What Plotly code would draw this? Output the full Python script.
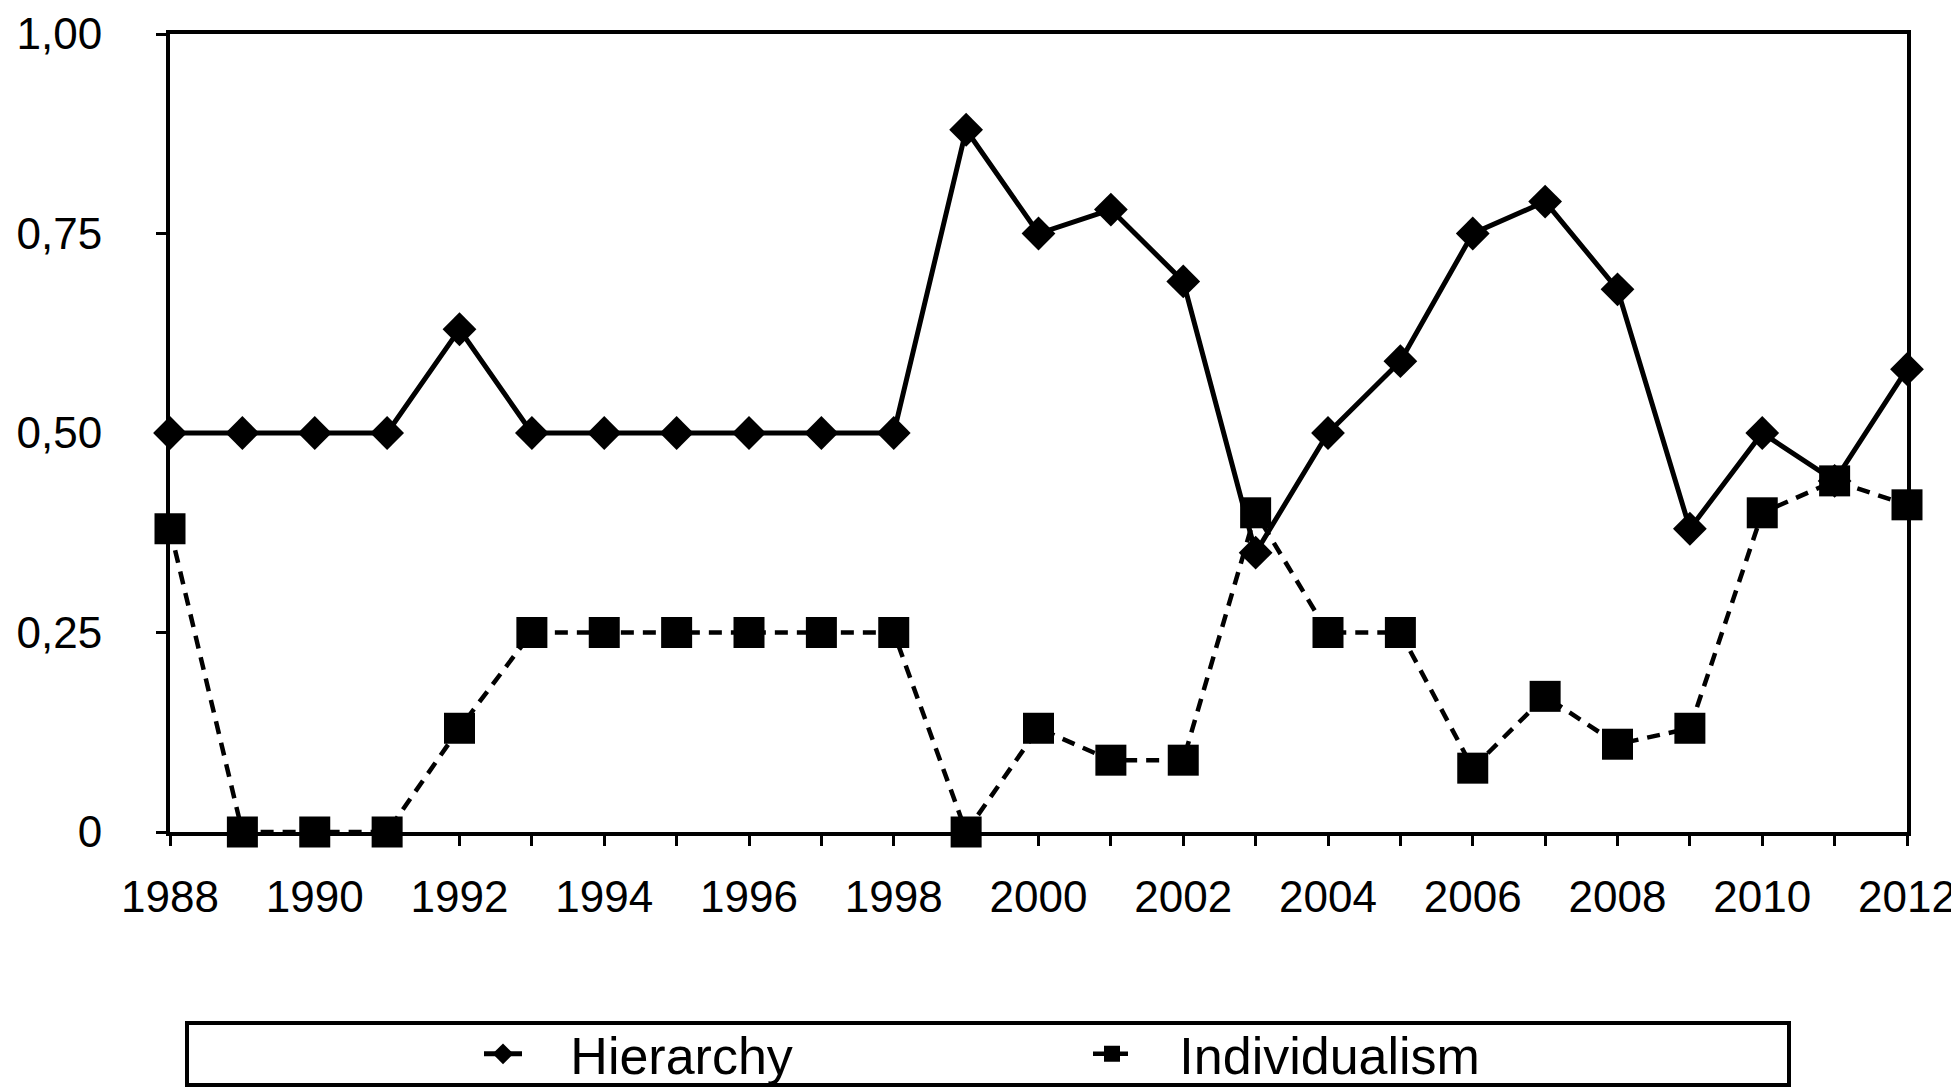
import plotly.graph_objects as go

years = list(range(1988, 2013))
hierarchy = [0.50, 0.50, 0.50, 0.50, 0.63, 0.50, 0.50, 0.50, 0.50, 0.50, 0.50,
             0.88, 0.75, 0.78, 0.69, 0.35, 0.50, 0.59, 0.75, 0.79, 0.68, 0.38,
             0.50, 0.44, 0.58]
individualism = [0.38, 0.00, 0.00, 0.00, 0.13, 0.25, 0.25, 0.25, 0.25, 0.25, 0.25,
                 0.00, 0.13, 0.09, 0.09, 0.40, 0.25, 0.25, 0.08, 0.17, 0.11, 0.13,
                 0.40, 0.44, 0.41]

x_tickvals = list(range(1988, 2013, 2))
x_ticktext = [str(v) for v in x_tickvals]
y_tickvals = [0, 0.25, 0.5, 0.75, 1.0]
y_ticktext = ["0", "0,25", "0,50", "0,75", "1,00"]

FONT = "Liberation Sans, Arial, Helvetica, sans-serif"
GAP = "\u00a0\u00a0\u00a0"

fig = go.Figure()
fig.add_trace(go.Scatter(
    x=years, y=hierarchy, name=GAP + "Hierarchy", mode="lines+markers",
    line=dict(color="black", width=5),
    marker=dict(symbol="diamond", size=26, color="black"),
    cliponaxis=False,
))
fig.add_trace(go.Scatter(
    x=years, y=individualism, name=GAP + "Individualism", mode="lines+markers",
    line=dict(color="black", width=4.5, dash="13px,9px"),
    marker=dict(symbol="square", size=31, color="black"),
    cliponaxis=False,
))

W, H = 1959, 1087
OFF = 8  # page offset of the figure
# target plot area in page pixels
PX0, PX1, PY0, PY1 = 170, 1907, 34, 832
L = PX0 - OFF
T = PY0 - OFF
R = W - (PX1 - OFF)
B = H - (PY1 - OFF)
pw, ph = PX1 - PX0, PY1 - PY0

def px_x(p):
    return (p - PX0) / pw

def px_y(p):
    return (PY1 - p) / ph

def cx(p):
    return (p - OFF) / W

def cy(p):
    return 1 - (p - OFF) / H

fig.add_shape(type="rect", xref="paper", yref="paper",
              x0=px_x(187), x1=px_x(1789), y0=px_y(1023), y1=px_y(1085),
              line=dict(color="black", width=4), fillcolor="rgba(0,0,0,0)")

fig.update_layout(
    width=W, height=H,
    margin=dict(l=L, r=R, t=T, b=B, pad=0),
    paper_bgcolor="white", plot_bgcolor="white",
    font=dict(family=FONT, color="black", size=44),
    showlegend=True,
    legend=dict(
        orientation="h", xref="container", yref="container",
        x=cx(479), xanchor="left",
        y=cy(1054), yanchor="middle",
        font=dict(size=52, family=FONT, color="black"),
        bgcolor="rgba(0,0,0,0)", borderwidth=0,
        entrywidth=556, entrywidthmode="pixels",
        itemwidth=38,
    ),
)
fig.update_xaxes(
    range=[1988, 2012], tickvals=x_tickvals, ticktext=x_ticktext,
    showline=True, linecolor="black", linewidth=4, mirror=True,
    ticks="outside", ticklen=10, tickwidth=3, tickcolor="black",
    minor=dict(dtick=1, tick0=1988, ticks="outside", ticklen=10, tickwidth=3, tickcolor="black"),
    showgrid=False, zeroline=False, automargin=False,
    tickfont=dict(size=44, family=FONT, color="black"),
    ticklabelstandoff=13, ticklabeloverflow="allow",
)
fig.update_yaxes(
    range=[0, 1], tickvals=y_tickvals, ticktext=y_ticktext,
    showline=True, linecolor="black", linewidth=4, mirror=True,
    ticks="outside", ticklen=10, tickwidth=3, tickcolor="black",
    showgrid=False, zeroline=False, automargin=False,
    tickfont=dict(size=44, family=FONT, color="black"),
    ticklabelstandoff=45, ticklabeloverflow="allow",
)

fig.write_html("out.html")
